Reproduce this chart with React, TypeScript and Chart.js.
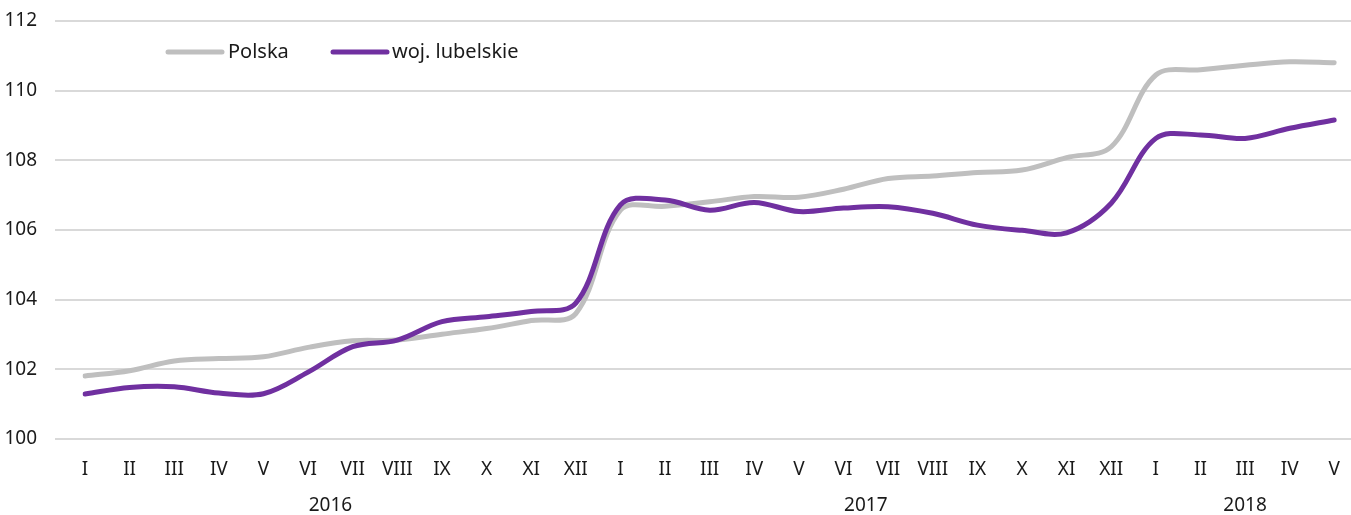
import React, { useEffect, useRef } from "react";
import { Chart, registerables } from "chart.js";

Chart.register(...registerables);

const months = [
  "I", "II", "III", "IV", "V", "VI", "VII", "VIII", "IX", "X", "XI", "XII",
  "I", "II", "III", "IV", "V", "VI", "VII", "VIII", "IX", "X", "XI", "XII",
  "I", "II", "III", "IV", "V",
];
const years = ["2016", "2017", "2018"];
const yearStart = [0, 12, 24];
const yearEnd = [11, 23, 28];

const polska = [
  101.81, 101.96, 102.24, 102.31, 102.36, 102.63, 102.82, 102.84, 103.01, 103.17, 103.4, 103.6,
  106.57, 106.68, 106.81, 106.96, 106.94, 107.17, 107.48, 107.55, 107.65, 107.72, 108.08, 108.39,
  110.45, 110.6, 110.73, 110.83, 110.8,
];
const lubelskie = [
  101.29, 101.48, 101.5, 101.32, 101.3, 101.92, 102.65, 102.84, 103.37, 103.51, 103.66, 103.9,
  106.72, 106.86, 106.57, 106.79, 106.53, 106.63, 106.67, 106.48, 106.14, 105.99, 105.92, 106.77,
  108.63, 108.73, 108.63, 108.92, 109.16,
];
const seriesNames = ["Polska", "woj. lubelskie"];
const seriesColors = ["#BFBFBF", "#7030A0"];
const yMin = 100;
const yMax = 112;
const yStep = 2;

const FONT = "'Noto Sans', sans-serif";
const TEXT = "#1a1a1a";

const gridPlugin = {
  id: "fullGrid",
  beforeDatasetsDraw(chart: any) {
    const ys = chart.scales.y;
    const ctx = chart.ctx;
    ctx.save();
    ctx.strokeStyle = "#D9D9D9";
    ctx.lineWidth = 2;
    ys.ticks.forEach((t: any) => {
      const py = Math.round(ys.getPixelForValue(t.value));
      ctx.beginPath();
      ctx.moveTo(55, py);
      ctx.lineTo(chart.width, py);
      ctx.stroke();
    });
    ctx.restore();
  },
};

const legendPlugin = {
  id: "customLegend",
  afterDraw(chart: any) {
    const ctx = chart.ctx;
    const items = [
      { x1: 168, x2: 222, tx: 228 },
      { x1: 333, x2: 387, tx: 392 },
    ];
    const y = 52;
    ctx.save();
    chart.data.datasets.forEach((ds: any, i: number) => {
      const it = items[i];
      ctx.strokeStyle = ds.borderColor;
      ctx.lineWidth = 5;
      ctx.lineCap = "round";
      ctx.beginPath();
      ctx.moveTo(it.x1, y);
      ctx.lineTo(it.x2, y);
      ctx.stroke();
      ctx.fillStyle = TEXT;
      ctx.font = `20px ${FONT}`;
      ctx.textAlign = "left";
      ctx.textBaseline = "middle";
      ctx.fillText(ds.label, it.tx, y);
    });
    ctx.restore();
  },
};

const yearPlugin = {
  id: "yearLabels",
  afterDraw(chart: any) {
    const xs = chart.scales.x;
    const ctx = chart.ctx;
    ctx.save();
    ctx.fillStyle = TEXT;
    ctx.font = `19px ${FONT}`;
    ctx.textAlign = "center";
    ctx.textBaseline = "middle";
    years.forEach((yr, i) => {
      const mid = (yearStart[i] + yearEnd[i]) / 2;
      ctx.fillText(yr, xs.getPixelForValue(mid), 506);
    });
    ctx.restore();
  },
};

export default function App() {
  const ref = useRef<HTMLCanvasElement | null>(null);
  useEffect(() => {
    if (!ref.current) return;
    const chart = new Chart(ref.current, {
      type: "line",
      data: {
        labels: months,
        datasets: [
          {
            label: seriesNames[0],
            data: polska,
            borderColor: seriesColors[0],
            backgroundColor: seriesColors[0],
            order: 2,
          },
          {
            label: seriesNames[1],
            data: lubelskie,
            borderColor: seriesColors[1],
            backgroundColor: seriesColors[1],
            order: 1,
          },
        ],
      },
      options: {
        animation: false,
        responsive: false,
        layout: { padding: { top: 21, right: 14, left: 0, bottom: 0 } },
        elements: {
          point: { radius: 0, hoverRadius: 0 },
          line: {
            borderWidth: 5,
            tension: 0.35,
            borderCapStyle: "round",
            borderJoinStyle: "round",
          },
        },
        plugins: {
          legend: { display: false },
          tooltip: { enabled: false },
        },
        scales: {
          x: {
            type: "category",
            offset: false,
            grid: { display: false },
            border: { display: false },
            ticks: {
              font: { family: FONT, size: 19 },
              color: TEXT,
              padding: 11,
              maxRotation: 0,
              autoSkip: false,
            },
            afterFit: (s: any) => {
              s.height = 76;
            },
          },
          y: {
            min: yMin,
            max: yMax,
            grid: {
              display: true,
              color: "rgba(0,0,0,0)",
              tickColor: "rgba(0,0,0,0)",
              drawTicks: true,
              tickLength: 40,
              drawOnChartArea: false,
            },
            border: { display: false },
            ticks: {
              stepSize: yStep,
              font: { family: FONT, size: 19 },
              color: TEXT,
              padding: 8,
            },
            afterFit: (s: any) => {
              s.width = 85;
            },
          },
        },
      },
      plugins: [gridPlugin, legendPlugin, yearPlugin],
    });
    return () => chart.destroy();
  }, []);
  return (
    <div style={{ position: "absolute", left: 0, top: 0, width: 1351, height: 515, background: "#fff" }}>
      <canvas ref={ref} width={1351} height={515} style={{ display: "block" }} />
    </div>
  );
}
